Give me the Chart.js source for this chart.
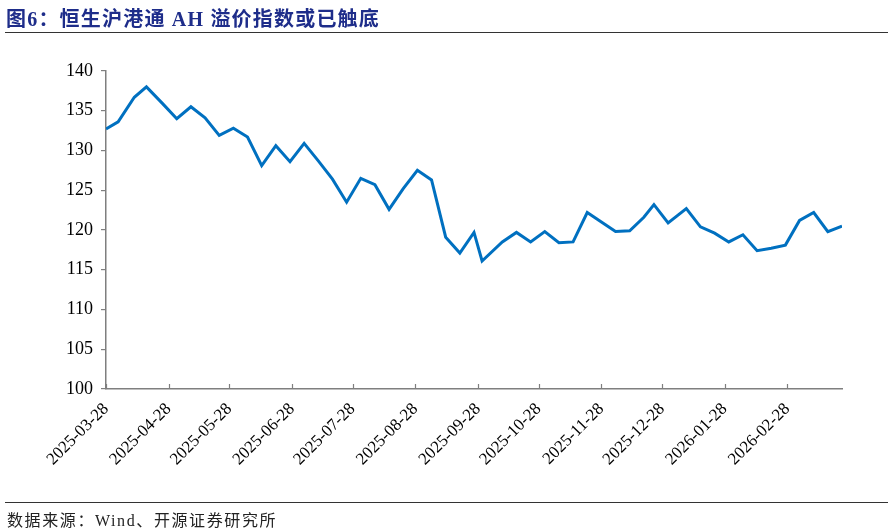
<!DOCTYPE html>
<html>
<head>
<meta charset="utf-8">
<script src="https://cdn.jsdelivr.net/npm/chart.js@4/dist/chart.umd.min.js"></script>
<style>
  body { margin: 0; background: #fff; }
  #wrap { position: relative; width: 894px; height: 532px; }
  #title {
    position: absolute; left: 6px; top: 3px;
    font: bold 20px "Liberation Serif", "Noto Sans CJK SC", serif;
    letter-spacing: 1.2px;
    color: #1e2d8a; white-space: nowrap;
  }
  .rule { position: absolute; left: 5px; width: 883px; height: 1px; background: #333; }
  #source {
    position: absolute; left: 7px; top: 507px;
    font: 16px "Liberation Serif", "Noto Sans CJK SC", serif;
    letter-spacing: 1.6px;
    color: #222; white-space: nowrap;
  }
  canvas { position: absolute; left: 0; top: 0; }
</style>
</head>
<body>
<div id="wrap">
  <canvas id="chart" width="894" height="532"></canvas>
  <div id="title">图6：恒生沪港通 AH 溢价指数或已触底</div>
  <div class="rule" style="top:32px"></div>
  <div class="rule" style="top:502px"></div>
  <div id="source">数据来源：Wind、开源证券研究所</div>
</div>
<script>
// weekly observations of the AH premium index
const dates = [
  "2025-03-28", "2025-04-03", "2025-04-11", "2025-04-17", "2025-04-25",
  "2025-05-02", "2025-05-09", "2025-05-16", "2025-05-23", "2025-05-30",
  "2025-06-06", "2025-06-13", "2025-06-20", "2025-06-27", "2025-07-04",
  "2025-07-11", "2025-07-18", "2025-07-25", "2025-08-01", "2025-08-08",
  "2025-08-15", "2025-08-22", "2025-08-29", "2025-09-05", "2025-09-12",
  "2025-09-19", "2025-09-26", "2025-09-30", "2025-10-10", "2025-10-17",
  "2025-10-24", "2025-10-31", "2025-11-07", "2025-11-14", "2025-11-21",
  "2025-11-28", "2025-12-05", "2025-12-12", "2025-12-19", "2025-12-24",
  "2025-12-31", "2026-01-09", "2026-01-16", "2026-01-23", "2026-01-30",
  "2026-02-06", "2026-02-13", "2026-02-20", "2026-02-27", "2026-03-06",
  "2026-03-13", "2026-03-20", "2026-03-27"
];
const premium = [
  132.7, 133.6, 136.7, 138.0, 135.9,
  134.0, 135.5, 134.1, 131.9, 132.8,
  131.7, 128.1, 130.6, 128.6, 130.9,
  128.7, 126.4, 123.5, 126.5, 125.7,
  122.6, 125.2, 127.5, 126.3, 119.1,
  117.1, 119.7, 116.1, 118.5, 119.7,
  118.5, 119.8, 118.4, 118.5, 122.2,
  121.0, 119.8, 119.9, 121.6, 123.2,
  120.9, 122.7, 120.4, 119.6, 118.5,
  119.4, 117.4, 117.7, 118.1, 121.2,
  122.2, 119.8, 120.5
];
const tickLabels = [
  "2025-03-28", "2025-04-28", "2025-05-28", "2025-06-28", "2025-07-28",
  "2025-08-28", "2025-09-28", "2025-10-28", "2025-11-28", "2025-12-28",
  "2026-01-28", "2026-02-28"
];
const axisStart = "2025-03-28";
const axisEnd = "2026-03-27";

const DAY = 86400000;
const toDay = s => Math.round(new Date(s).getTime() / DAY);
const fromDay = d => new Date(d * DAY).toISOString().slice(0, 10);

const axisColor = "#7f7f7f";

// x axis tick marks point up into the plot
const innerTicks = {
  id: "innerTicks",
  afterDraw(chart) {
    const x = chart.scales.x;
    const c = chart.ctx;
    c.save();
    c.strokeStyle = axisColor;
    c.lineWidth = 1.2;
    x.ticks.forEach(t => {
      const px = Math.round(x.getPixelForValue(t.value)) + 0.5;
      c.beginPath();
      c.moveTo(px, x.top);
      c.lineTo(px, x.top - 5);
      c.stroke();
    });
    c.restore();
  }
};

new Chart(document.getElementById("chart"), {
  type: "line",
  data: {
    datasets: [{
      label: "AH溢价指数",
      data: dates.map((d, i) => ({ x: toDay(d), y: premium[i] })),
      borderColor: "#0070c0",
      borderWidth: 3,
      pointRadius: 0,
      tension: 0,
      fill: false
    }]
  },
  options: {
    responsive: false,
    animation: false,
    layout: { padding: { top: 71, right: 52, left: 0, bottom: 0 } },
    plugins: { legend: { display: false }, tooltip: { enabled: false } },
    scales: {
      x: {
        type: "linear",
        min: toDay(axisStart),
        max: toDay(axisEnd),
        afterBuildTicks: scale => {
          scale.ticks = tickLabels.map(s => ({ value: toDay(s) }));
        },
        afterFit: scale => { scale.height = 143; },
        grid: { display: false, drawTicks: false },
        border: { display: true, color: axisColor, width: 1.5 },
        ticks: {
          autoSkip: false,
          maxRotation: 45,
          minRotation: 45,
          padding: 10,
          color: "#000",
          font: { family: "Liberation Serif", size: 17 },
          callback: v => fromDay(v)
        }
      },
      y: {
        min: 100,
        max: 140,
        afterFit: scale => { scale.width = 106; },
        grid: { drawOnChartArea: false, drawTicks: true, tickLength: 5, color: axisColor, lineWidth: 1.2 },
        border: { display: true, color: axisColor, width: 1.5 },
        ticks: {
          stepSize: 5,
          padding: 8,
          color: "#000",
          font: { family: "Liberation Serif", size: 18 }
        }
      }
    }
  },
  plugins: [innerTicks]
});
</script>
</body>
</html>
